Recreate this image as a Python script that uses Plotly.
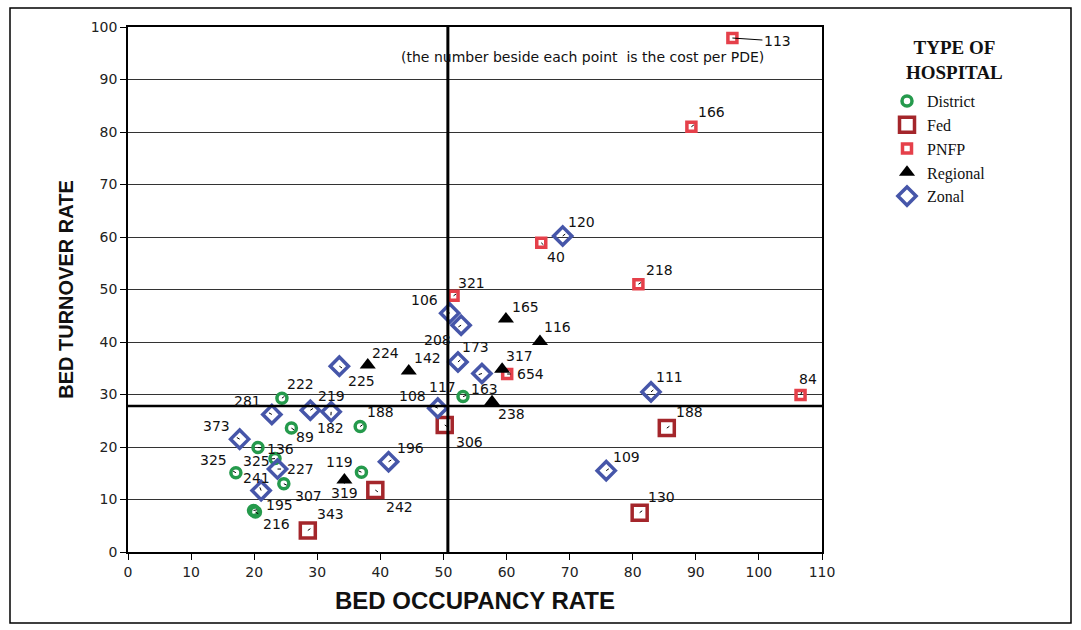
import math
import plotly.graph_objects as go

# Bed occupancy rate (x), bed turnover rate (y), cost per PDE label,
# and where each label sits relative to its point (pixels: right, down).
district_x = [24.4, 36.8, 25.9, 20.6, 23.3, 17.1, 24.7, 19.9, 20.2, 53.1, 37.0]
district_y = [29.3, 23.9, 23.6, 19.9, 17.8, 15.1, 13.0, 7.9, 7.6, 29.6, 15.2]
district_cost = ["222", "188", "89", "136", "325", "325", "307", "195", "216", "163", "119"]
district_off = [(19, -14), (20, -15), (14, 9), (23, 1), (-19, 2), (-22, -13),
                (25, 12), (26, -6), (21, 12), (21, -8), (-22, -10)]

fed_x = [50.2, 85.4, 81.1, 39.2, 28.5]
fed_y = [24.2, 23.6, 7.5, 11.8, 4.1]
fed_cost = ["306", "188", "130", "242", "343"]
fed_off = [(25, 17), (23, -16), (22, -16), (24, 17), (23, -16)]

pnfp_x = [95.8, 89.3, 65.5, 80.9, 51.6, 60.1, 106.6]
pnfp_y = [97.9, 81.0, 58.9, 51.0, 48.8, 33.9, 29.9]
pnfp_cost = ["113", "166", "40", "218", "321", "654", "84"]
pnfp_off = [(45, 3), (20, -15), (15, 14), (21, -14), (18, -13), (23, 0), (7, -16)]

regional_x = [59.9, 65.3, 38.0, 44.5, 59.3, 57.7, 34.3]
regional_y = [44.4, 40.1, 35.6, 34.5, 34.8, 28.6, 13.7]
regional_cost = ["165", "116", "224", "142", "317", "238", "319"]
regional_off = [(20, -12), (18, -14), (18, -12), (19, -13), (17, -13), (19, 12), (0, 13)]

zonal_x = [68.9, 51.0, 52.8, 52.3, 33.5, 56.1, 49.1, 82.9, 75.8, 41.3,
           22.8, 28.9, 32.2, 17.7, 23.7, 21.1]
zonal_y = [60.2, 45.5, 43.2, 36.2, 35.4, 34.0, 27.4, 30.5, 15.5, 17.2,
           26.2, 27.0, 26.7, 21.5, 15.8, 11.7]
zonal_cost = ["120", "106", "208", "173", "225", "117", "108", "111", "109", "196",
              "281", "219", "182", "373", "227", "241"]
zonal_off = [(19, -14), (-25, -13), (-24, 15), (18, -15), (22, 15), (-39, 13),
             (-25, -12), (18, -15), (20, -14), (22, -14), (-24, -13), (21, -14),
             (-1, 16), (-23, -13), (23, 0), (-5, -13)]

# Cut-off lines (average bed occupancy / turnover)
bor_ref = 50.7
btr_ref = 27.8

x_ticks = list(range(0, 111, 10))
y_ticks = list(range(0, 101, 10))

# Plot-area geometry in pixels
W, H = 1081, 630
ML, MT, MR, MB = 128, 27, 259, 78
PW, PH = W - ML - MR, H - MT - MB


def px_to_paper(px, py):
    return (px - ML) / PW, (H - MB - py) / PH


LABEL_FONT = dict(family="DejaVu Sans, Liberation Sans, Arial", size=14, color="#111")
SERIF = "Liberation Serif, Times New Roman"

series = [
    dict(name="District", x=district_x, y=district_y, cost=district_cost, off=district_off,
         marker=dict(symbol="circle-open", size=10, color="#259a4c", line=dict(width=3.5, color="#259a4c"))),
    dict(name="Fed", x=fed_x, y=fed_y, cost=fed_cost, off=fed_off,
         marker=dict(symbol="square-open", size=15, color="#a4262b", line=dict(width=3.5, color="#a4262b"))),
    dict(name="PNFP", x=pnfp_x, y=pnfp_y, cost=pnfp_cost, off=pnfp_off,
         marker=dict(symbol="square-open", size=9, color="#e5404a", line=dict(width=3.5, color="#e5404a"))),
    dict(name="Regional", x=regional_x, y=regional_y, cost=regional_cost, off=regional_off,
         marker=dict(symbol="triangle-up", size=14, color="#000000", line=dict(width=0))),
    dict(name="Zonal", x=zonal_x, y=zonal_y, cost=zonal_cost, off=zonal_off,
         marker=dict(symbol="diamond-open", size=14, color="#4656a9", line=dict(width=3.5, color="#4656a9"))),
]

fig = go.Figure()
annotations = []
for s in series:
    fig.add_trace(go.Scatter(x=s["x"], y=s["y"], mode="markers", name=s["name"],
                             marker=s["marker"], cliponaxis=False))
    for xv, yv, c, (dx, dy) in zip(s["x"], s["y"], s["cost"], s["off"]):
        if c == "113":
            # leader line from the point out to its label
            annotations.append(dict(x=xv, y=yv, text=c, font=LABEL_FONT, showarrow=True,
                                    arrowhead=0, arrowwidth=1, arrowcolor="#000",
                                    ax=dx, ay=dy, standoff=0))
            continue
        annotations.append(dict(x=xv, y=yv, text=c, font=LABEL_FONT, showarrow=False,
                                xshift=dx, yshift=-dy))
        # short tick inside the marker pointing toward its label
        d = math.hypot(dx, dy) or 1.0
        annotations.append(dict(x=xv, y=yv, text="", showarrow=True, arrowhead=0,
                                arrowwidth=1, arrowcolor="#000",
                                ax=5 * dx / d, ay=5 * dy / d, standoff=0))

annotations.append(dict(x=72.0, y=94.3, text="(the number beside each point  is the cost per PDE)",
                        showarrow=False,
                        font=dict(family="DejaVu Sans, Liberation Sans, Arial", size=14, color="#111")))

# Legend heading, two centred lines
tx, ty = px_to_paper(954, 60)
annotations.append(dict(xref="paper", yref="paper", x=tx, y=ty, xanchor="center", yanchor="middle",
                        text="<b>TYPE OF<br>HOSPITAL</b>", align="center", showarrow=False,
                        font=dict(family=SERIF, size=19, color="#111")))

shapes = [
    dict(type="line", xref="x", yref="y", x0=0, x1=110, y0=btr_ref, y1=btr_ref,
         line=dict(color="#000", width=2.5)),
    dict(type="line", xref="x", yref="y", x0=bor_ref, x1=bor_ref, y0=0, y1=100,
         line=dict(color="#000", width=3)),
]
bx0, by0 = px_to_paper(10, 8)
bx1, by1 = px_to_paper(1071, 623)
shapes.append(dict(type="rect", xref="paper", yref="paper", x0=bx0, x1=bx1, y0=by1, y1=by0,
                   line=dict(color="#000", width=1.5), layer="below"))

lx, ly = px_to_paper(887, 84)
fig.update_layout(
    width=W, height=H,
    margin=dict(l=ML, r=MR, t=MT, b=MB),
    paper_bgcolor="white", plot_bgcolor="white",
    showlegend=True,
    legend=dict(x=lx, y=ly, xanchor="left", yanchor="top",
                font=dict(family=SERIF, size=16, color="#111"),
                itemwidth=30, tracegroupgap=0, bgcolor="rgba(0,0,0,0)"),
    xaxis=dict(range=[0, 110], tickvals=x_ticks, ticks="outside", ticklen=6, tickcolor="#000",
               showline=True, linecolor="#000", linewidth=1.5, mirror=True, showgrid=False,
               zeroline=False,
               tickfont=dict(family="DejaVu Sans, Liberation Sans, Arial", size=14, color="#222"),
               title=dict(text="<b>BED OCCUPANCY RATE</b>", standoff=14,
                          font=dict(family="Liberation Sans, Arial", size=24, color="#111"))),
    yaxis=dict(range=[0, 100], tickvals=y_ticks, ticks="outside", ticklen=6, tickcolor="#000",
               showline=True, linecolor="#000", linewidth=1.5, mirror=True, showgrid=True,
               gridcolor="#333", gridwidth=1, zeroline=False,
               tickfont=dict(family="DejaVu Sans, Liberation Sans, Arial", size=14, color="#222"),
               title=dict(text="<b>BED TURNOVER RATE</b>", standoff=12,
                          font=dict(family="Liberation Sans, Arial", size=20, color="#111"))),
    annotations=annotations,
    shapes=shapes,
)

fig.write_html("out.html")
